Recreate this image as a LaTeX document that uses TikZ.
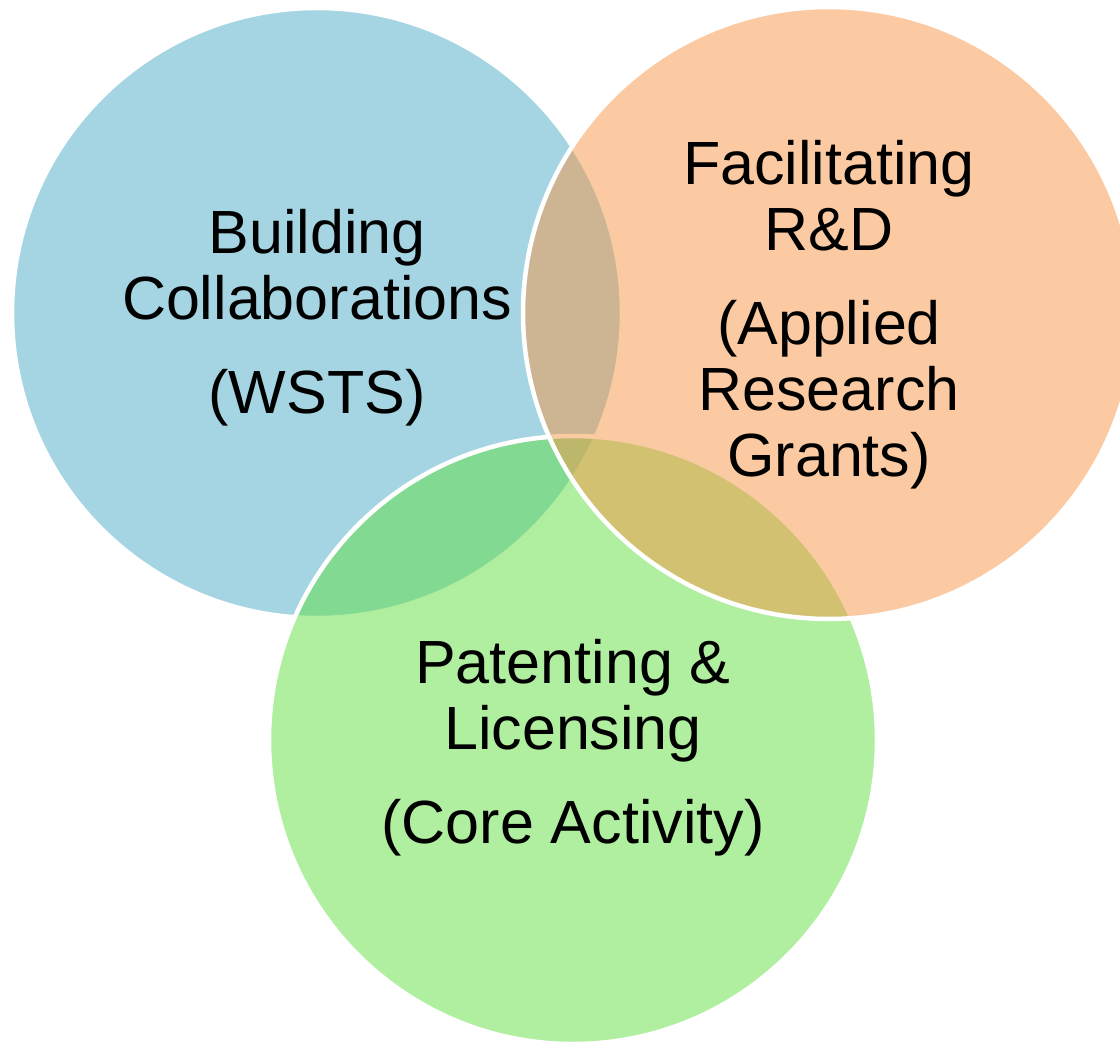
\documentclass[tikz,border=0pt]{standalone}
\usepackage{fontspec}
\setmainfont{Liberation Sans}
\definecolor{bluearea}{RGB}{75,172,198}
\definecolor{greenarea}{RGB}{97,221,65}
\definecolor{orangearea}{RGB}{247,150,70}
\begin{document}
\begin{tikzpicture}[x=1pt,y=-1pt,
    venn/.style={fill opacity=0.5,draw=white,line width=4.5pt},
    lbl/.style={font=\fontsize{61}{66}\selectfont,anchor=base,inner sep=0pt}]
  \useasboundingbox (0,0) rectangle (1120,1046);
  \coordinate (bluec) at (317,313);
  \coordinate (greenc) at (573,740);
  \coordinate (orangec) at (829,313);
  \draw[venn,fill=bluearea] (bluec) circle (305pt);
  \draw[venn,fill=greenarea] (greenc) circle (304pt);
  \draw[venn,fill=orangearea] (orangec) circle (306pt);
  \draw
    (317,253) node[lbl] (b1){Building}
    (317,319) node[lbl] (b2){Collaborations}
    (317,413) node[lbl] (b3){(WSTS)};
  \draw
    (829,185) node[lbl] (o1){Facilitating}
    (829,251) node[lbl] (o2){R\&D}
    (829,344) node[lbl] (o3){(Applied}
    (829,410) node[lbl] (o4){Research}
    (829,476) node[lbl] (o5){Grants)};
  \draw
    (573,683) node[lbl] (g1){Patenting \&}
    (573,749) node[lbl] (g2){Licensing}
    (573,843) node[lbl] (g3){(Core Activity)};
\end{tikzpicture}
\end{document}
